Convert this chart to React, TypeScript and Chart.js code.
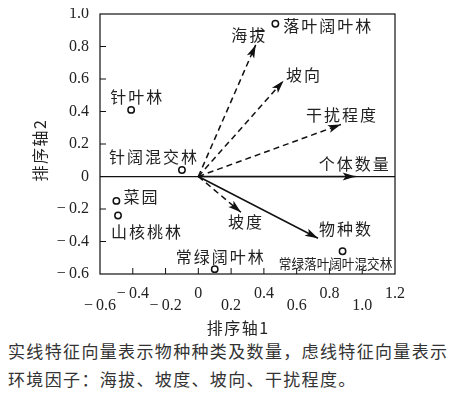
import React, { useEffect, useRef } from 'react';
import { Chart, registerables } from 'chart.js';

Chart.register(...registerables);

// ---- data ----
const siteNames = ['针叶林', '针阔混交林', '菜园', '山核桃林', '常绿阔叶林', '常绿落叶阔叶混交林', '落叶阔叶林'];
const siteX = [-0.41, -0.10, -0.50, -0.49, 0.10, 0.88, 0.47];
const siteY = [0.41, 0.04, -0.15, -0.24, -0.57, -0.46, 0.94];

const vectorNames = ['海拔', '坡向', '干扰程度', '个体数量', '物种数', '坡度'];
const vectorX = [0.35, 0.52, 0.87, 0.96, 0.73, 0.26];
const vectorY = [0.81, 0.59, 0.32, 0, -0.38, -0.22];
const vectorDashed = [true, true, true, false, false, true];

const xTickValues = [-0.6, -0.4, -0.2, 0, 0.2, 0.4, 0.6, 0.8, 1.0, 1.2];
const xTickLabels = ['\u2212\u20090.6', '\u2212\u20090.4', '\u2212\u20090.2', '0', '0.2', '0.4', '0.6', '0.8', '1.0', '1.2'];
const yTickValues = [-0.6, -0.4, -0.2, 0, 0.2, 0.4, 0.6, 0.8, 1.0];
const yTickLabels = ['\u2212\u20090.6', '\u2212\u20090.4', '\u2212\u20090.2', '0', '0.2', '0.4', '0.6', '0.8', '1.0'];

const xTitle = '排序轴1';
const yTitle = '排序轴2';
const captionLines = ['实线特征向量表示物种种类及数量，虑线特征向量表示', '环境因子：海拔、坡度、坡向、干扰程度。'];

// ---- layout (pixel offsets of labels from their marks) ----
const siteLabelOffsets = [[5, -13], [-29, -13], [24, -4], [28, 16], [5, -12.6], [-7, 12], [52, 1.7]];
const vectorLabelOffsets = [[-7.5, -9.5], [19.5, -5.5], [0, -9.5], [-2, -12.5], [27, -9.5], [4, 9.5]];

const CJK = '"Noto Sans CJK SC", "Noto Sans", sans-serif';
const NUM = '"Liberation Serif", "Times New Roman", "DejaVu Serif", serif';
const INK = '#222';

Chart.defaults.font.family = NUM;

function labelFor(values: number[], labels: string[], v: number) {
  const i = values.findIndex((t) => Math.abs(t - v) < 1e-6);
  return i >= 0 ? labels[i] : '';
}

const overlay = {
  id: 'overlay',
  afterDatasetsDraw(chart: any) {
    const { ctx, chartArea, scales } = chart;
    const { left, right, top, bottom } = chartArea;
    const xs = scales.x;
    const ys = scales.y;
    ctx.save();

    // frame
    ctx.strokeStyle = '#111';
    ctx.lineWidth = 1.2;
    ctx.setLineDash([]);
    ctx.strokeRect(left, top, right - left, bottom - top);

    // inward tick marks
    ctx.lineWidth = 1;
    ctx.beginPath();
    xs.ticks.forEach((t: any) => {
      const px = xs.getPixelForValue(t.value);
      if (px <= left + 1 || px >= right - 1) return;
      ctx.moveTo(px, bottom);
      ctx.lineTo(px, bottom - 6);
    });
    ys.ticks.forEach((t: any) => {
      const py = ys.getPixelForValue(t.value);
      if (py <= top + 1 || py >= bottom - 1) return;
      ctx.moveTo(left, py);
      ctx.lineTo(left + 6, py);
    });
    ctx.stroke();

    // arrowheads
    ctx.fillStyle = '#111';
    vectorNames.forEach((_, i) => {
      const meta = chart.getDatasetMeta(i + 1);
      const p0 = meta.data[0];
      const p1 = meta.data[1];
      if (!p0 || !p1) return;
      const a = Math.atan2(p1.y - p0.y, p1.x - p0.x);
      const len = 13, hw = 4, notch = 3;
      ctx.save();
      ctx.translate(p1.x, p1.y);
      ctx.rotate(a);
      ctx.beginPath();
      ctx.moveTo(0, 0);
      ctx.lineTo(-len, -hw);
      ctx.lineTo(-len + notch, 0);
      ctx.lineTo(-len, hw);
      ctx.closePath();
      ctx.fill();
      ctx.restore();
    });

    // labels
    ctx.fillStyle = INK;
    ctx.textBaseline = 'middle';
    ctx.textAlign = 'center';
    const drawText = (text: string, cx: number, cy: number, size: number, spacing: number, sx: number) => {
      ctx.save();
      ctx.font = `${size}px ${CJK}`;
      (ctx as any).letterSpacing = `${spacing}px`;
      ctx.translate(cx + spacing / 2, cy);
      ctx.scale(sx, 1);
      ctx.fillText(text, 0, 0);
      ctx.restore();
    };
    const siteMeta = chart.getDatasetMeta(0);
    siteNames.forEach((name, i) => {
      const p = siteMeta.data[i];
      if (!p) return;
      const [dx, dy] = siteLabelOffsets[i];
      const small = name.length > 6;
      drawText(name, p.x + dx, p.y + dy, small ? 14 : 16, small ? 0 : 2, small ? 0.9 : 1);
    });
    vectorNames.forEach((name, i) => {
      const p = chart.getDatasetMeta(i + 1).data[1];
      if (!p) return;
      const [dx, dy] = vectorLabelOffsets[i];
      drawText(name, p.x + dx, p.y + dy, 16, 2, 1);
    });

    // axis titles
    drawText(xTitle, (left + right) / 2 - 10, bottom + 54, 16, 1.5, 1);
    ctx.save();
    ctx.translate(left - 60, (top + bottom) / 2 + 6);
    ctx.rotate(-Math.PI / 2);
    ctx.font = `16px ${CJK}`;
    (ctx as any).letterSpacing = '1.5px';
    ctx.fillText(yTitle, 0, 0);
    ctx.restore();

    ctx.restore();
  },
};

export default function App() {
  const ref = useRef<HTMLCanvasElement | null>(null);

  useEffect(() => {
    if (!ref.current) return;
    const datasets: any[] = [
      {
        data: siteX.map((x, i) => ({ x, y: siteY[i] })),
        pointRadius: 3.2,
        pointBorderWidth: 1.5,
        pointBorderColor: '#111',
        pointBackgroundColor: '#fff',
        showLine: false,
      },
    ];
    vectorNames.forEach((_, i) => {
      datasets.push({
        data: [
          { x: 0, y: 0 },
          { x: vectorX[i], y: vectorY[i] },
        ],
        showLine: true,
        borderColor: '#111',
        borderWidth: 1.5,
        borderDash: vectorDashed[i] ? [6, 4] : [],
        borderCapStyle: 'butt',
        pointRadius: 0,
        pointHoverRadius: 0,
      });
    });

    const chart = new Chart(ref.current, {
      type: 'scatter',
      data: { datasets },
      plugins: [overlay],
      options: {
        animation: false,
        responsive: false,
        devicePixelRatio: 1,
        events: [],
        layout: { padding: { left: 0, right: 53, top: 6, bottom: 0 } },
        plugins: { legend: { display: false }, tooltip: { enabled: false } },
        scales: {
          x: {
            type: 'linear',
            min: -0.6,
            max: 1.2,
            afterBuildTicks: (s: any) => {
              s.ticks = xTickValues.map((v) => ({ value: v }));
            },
            afterFit: (s: any) => {
              s.height = 63;
              s.paddingLeft = 0;
              s.paddingRight = 0;
            },
            border: { display: false },
            grid: { display: false, drawTicks: false },
            ticks: {
              autoSkip: false,
              maxRotation: 0,
              padding: 14,
              color: INK,
              font: { family: NUM, size: 16, lineHeight: 0.75 },
              callback: (v: any, i: number) => {
                const t = labelFor(xTickValues, xTickLabels, Number(v));
                return i % 2 === 0 ? ['', t] : [t];
              },
            },
          },
          y: {
            type: 'linear',
            min: -0.6,
            max: 1.0,
            afterBuildTicks: (s: any) => {
              s.ticks = yTickValues.map((v) => ({ value: v }));
            },
            afterFit: (s: any) => {
              s.width = 92;
              s.paddingTop = 0;
              s.paddingBottom = 0;
            },
            border: { display: false },
            grid: {
              drawTicks: false,
              lineWidth: 1.2,
              color: (c: any) => (c.tick && Math.abs(c.tick.value) < 1e-9 ? '#111' : 'rgba(0,0,0,0)'),
            },
            ticks: {
              autoSkip: false,
              padding: 11,
              color: INK,
              font: { family: NUM, size: 16 },
              callback: (v: any) => labelFor(yTickValues, yTickLabels, Number(v)),
            },
          },
        },
      } as any,
    });
    return () => chart.destroy();
  }, []);

  return (
    <div>
      <div style={{ width: 440, height: 329 }}>
        <canvas ref={ref} width={440} height={329} style={{ display: 'block', width: 440, height: 329 }} />
      </div>
      <div
        style={{
          fontFamily: CJK,
          fontSize: 17,
          letterSpacing: '1.35px',
          lineHeight: '28px',
          color: '#333',
          whiteSpace: 'nowrap',
        }}
      >
        {captionLines.map((l, i) => (
          <div key={i}>{l}</div>
        ))}
      </div>
    </div>
  );
}
